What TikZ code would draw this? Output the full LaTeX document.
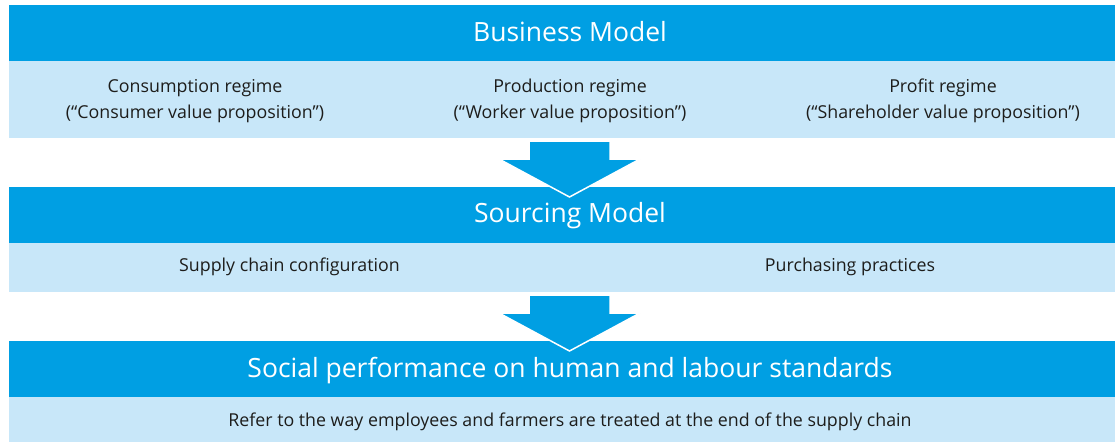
\documentclass[tikz,border=0pt]{standalone}
\usepackage{fontspec}
\setmainfont{Open Sans}
\definecolor{dblue}{HTML}{009FE3}
\definecolor{lblue}{HTML}{C8E7F9}
\definecolor{txt}{HTML}{1D1D1B}
\tikzset{
  darkbox/.style={fill=dblue, draw=none, inner sep=0pt, anchor=north west, minimum width=1106pt},
  lightbox/.style={fill=lblue, draw=none, inner sep=0pt, anchor=north west, minimum width=1106pt},
  ttl/.style={text=white, font=\fontsize{26.5}{32}\selectfont, anchor=base, inner sep=0pt},
  body/.style={text=txt, font=\fontsize{17.8}{26}\selectfont, anchor=base, inner sep=0pt},
  blockarrow/.style={fill=dblue, draw=white, line width=1.5pt, line join=miter}
}
\begin{document}
\begin{tikzpicture}[x=1pt,y=-1pt]
\useasboundingbox (0,0) rectangle (1115,442);
% boxes
\node[darkbox, minimum height=56pt] (bm) at (9,5) {};
\node[lightbox, minimum height=77pt] (bml) at (9,61) {};
\node[darkbox, minimum height=56pt] (sm) at (9,187) {};
\node[lightbox, minimum height=49pt] (sml) at (9,243) {};
\node[darkbox, minimum height=56pt] (sp) at (9,341) {};
\node[lightbox, minimum height=45pt] (spl) at (9,397) {};
% arrows
\draw[blockarrow] (529,141) -- (610,141) -- (610,159) -- (640,159) -- (569.5,197) -- (499,159) -- (529,159) -- cycle;
\draw[blockarrow] (529,295) -- (610,295) -- (610,313) -- (640,313) -- (569.5,351) -- (499,313) -- (529,313) -- cycle;
% titles
\node[ttl] (t1) at (570,41.5) {Business Model};
\node[ttl] (t2) at (570,222.5) {Sourcing Model};
\node[ttl] (t3) at (570,377) {Social performance on human and labour standards};
% body texts
\node[body] (c1) at (195,92) {Consumption regime};
\node[body] (c2) at (195,118) {(“Consumer value proposition”)};
\node[body] (p1) at (570,92) {Production regime};
\node[body] (p2) at (570,118) {(“Worker value proposition”)};
\node[body] (r1) at (943,92) {Profit regime};
\node[body] (r2) at (943,118) {(“Shareholder value proposition”)};
\node[body] (s1) at (289.5,271.5) {Supply chain configuration};
\node[body] (s2) at (850,271.5) {Purchasing practices};
\node[body] (e1) at (570,426.5) {Refer to the way employees and farmers are treated at the end of the supply chain};
\end{tikzpicture}
\end{document}
